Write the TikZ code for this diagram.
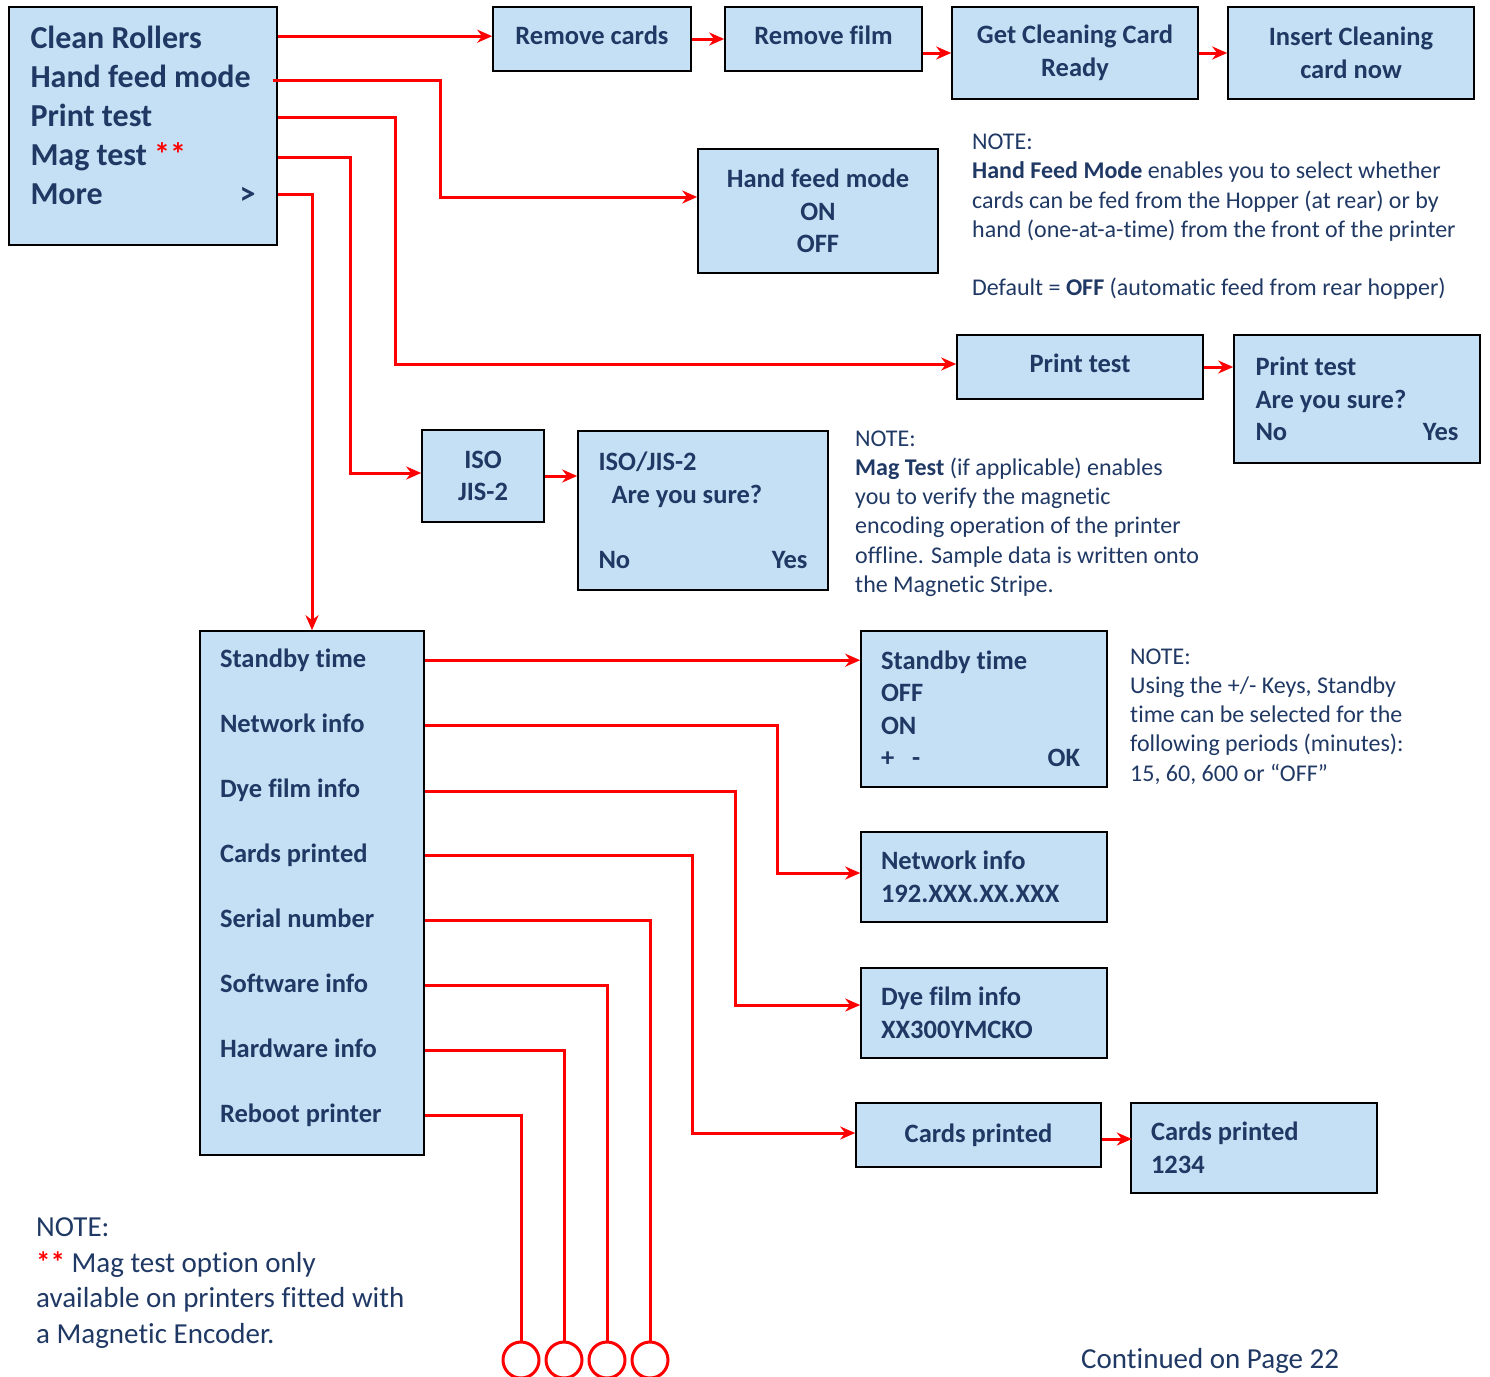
\documentclass[tikz,border=0pt]{standalone}
\usepackage{fontspec}
\setmainfont{Carlito}[Ligatures=NoCommon]
\usetikzlibrary{arrows.meta,calc,positioning}

\definecolor{boxblue}{RGB}{197,224,244}
\definecolor{navy}{RGB}{31,56,100}

\newcommand{\boxfont}{\bfseries\fontsize{26.5}{32.5}\selectfont}
\newcommand{\menufont}{\bfseries\fontsize{32}{39}\selectfont}
\newcommand{\listfont}{\bfseries\fontsize{26.5}{65}\selectfont}
\newcommand{\notefont}{\fontsize{24}{29.2}\selectfont}
\newcommand{\bignotefont}{\fontsize{29}{35.6}\selectfont}

\begin{document}
\begin{tikzpicture}[x=1pt, y=-1pt,
    box/.style = {draw, line width=1.6pt, fill=boxblue, text=navy, inner sep=0pt, font=\boxfont},
    wire/.style = {draw=red, line width=3pt, -{Stealth[length=15pt,width=13pt]}},
    link/.style = {draw=red, line width=3pt},
    term/.style = {circle, draw=red, line width=3pt, minimum size=36pt, inner sep=0pt},
    note/.style = {text=navy, anchor=north west, align=flush left, inner sep=0pt, font=\notefont}]
    \useasboundingbox (0,0) rectangle (1490,1376);

    % main menu
    \node[box, font=\menufont, minimum width=268pt, minimum height=238pt, text width=225pt, align=flush left] (menu) at (143,126)
        {Clean Rollers\\Hand feed mode\\Print test\\Mag test {\color{red}**}\\More\hfill >\\[-17pt]\mbox{}};

    % clean rollers
    \node[box, minimum width=198pt, minimum height=64pt, text depth=8pt] (rmcards) at (592,39) {Remove cards};
    \node[box, minimum width=197pt, minimum height=64pt, text depth=8pt] (rmfilm) at (823.5,39) {Remove film};
    \node[box, minimum width=246pt, minimum height=92pt, align=center] (getcard) at (1075,53) {Get Cleaning Card\\Ready};
    \node[box, minimum width=246pt, minimum height=92pt, align=center] (insert) at (1351,53) {Insert Cleaning\\card now};

    % hand feed mode
    \node[box, minimum width=240pt, minimum height=124pt, align=center] (handfeed) at (818,211) {Hand feed mode\\ON\\OFF};
    \node[note] (notehf) at (972,134)
        {NOTE:\\
        \textbf{Hand Feed Mode} enables you to select whether\\
        cards can be fed from the Hopper (at rear) or by\\
        hand (one-at-a-time) from the front of the printer\\[29.2pt]
        Default = \textbf{OFF} (automatic feed from rear hopper)};

    % print test
    \node[box, minimum width=246pt, minimum height=64pt, text depth=8pt] (printtest) at (1080,367) {Print test};
    \node[box, minimum width=246pt, minimum height=128pt, text width=203pt, align=flush left] (printsure) at (1357,399)
        {Print test\\Are you sure?\\No\hfill Yes};

    % mag test
    \node[box, minimum width=122pt, minimum height=92pt, align=center] (iso) at (483,476) {ISO\\JIS-2};
    \node[box, minimum width=250pt, minimum height=159pt, text width=209pt, align=flush left] (isosure) at (703,510.5)
        {ISO/JIS-2\\\hspace*{13pt}Are you sure?\\\mbox{}\\No\hfill Yes};
    \node[note] (notemag) at (855,430.5)
        {NOTE:\\
        \textbf{Mag Test} (if applicable) enables\\
        you to verify the magnetic\\
        encoding operation of the printer\\
        offline. Sample data is written onto\\
        the Magnetic Stripe.};

    % more
    \node[box, font=\listfont, minimum width=224pt, minimum height=524pt, text width=184pt, align=flush left] (more) at (312,893)
        {Standby time\\Network info\\Dye film info\\Cards printed\\Serial number\\Software info\\Hardware info\\Reboot printer\\[-50pt]\mbox{}};

    \node[box, minimum width=246pt, minimum height=156pt, text width=206pt, align=flush left] (standby) at (984,709)
        {Standby time\\OFF\\ON\\+\hspace{18pt}-\hfill OK\hspace*{7pt}};
    \node[note] (notesb) at (1130,648.5)
        {NOTE:\\
        Using the +/- Keys, Standby\\
        time can be selected for the\\
        following periods (minutes):\\
        15, 60, 600 or “OFF”};
    \node[box, minimum width=246pt, minimum height=90pt, text width=206pt, align=flush left] (network) at (984,877)
        {Network info\\192.XXX.XX.XXX};
    \node[box, minimum width=246pt, minimum height=90pt, text width=206pt, align=flush left] (dyefilm) at (984,1013)
        {Dye film info\\XX300YMCKO};
    \node[box, minimum width=245pt, minimum height=64pt] (cardsp) at (978.5,1135) {Cards printed};
    \node[box, minimum width=246pt, minimum height=90pt, text width=206pt, align=flush left] (cardsn) at (1254,1148)
        {Cards printed\\1234};

    % open ends
    \node[term] (t1) at (521,1360) {};
    \node[term] (t2) at (564,1360) {};
    \node[term] (t3) at (607,1360) {};
    \node[term] (t4) at (650,1360) {};

    \node[note, font=\bignotefont] (notebot) at (36,1217.5)
        {NOTE:\\
        {\color{red}\textbf{**}} Mag test option only\\
        available on printers fitted with\\
        a Magnetic Encoder.};
    \node[text=navy, font=\bignotefont, anchor=base west, inner sep=0pt] (cont) at (1081,1368) {Continued on Page 22};

    % menu exits
    \coordinate (mClean) at ($(menu.north east)+(0,30)$);
    \coordinate (mHand) at ($(menu.north east)+(-5,74)$);
    \coordinate (mPrint) at ($(menu.north east)+(0,111)$);
    \coordinate (mMag) at ($(menu.north east)+(0,151)$);
    \coordinate (mMore) at ($(menu.north east)+(0,188)$);

    \draw[wire] (mClean) -- (mClean -| rmcards.west);
    \draw[wire] (rmcards.east) -- (rmfilm.west);
    \draw[wire] (rmfilm.east |- getcard.west) -- (getcard.west);
    \draw[wire] (getcard.east) -- (insert.west);
    \draw[wire] (mHand) -- ++(168,0) |- ($(handfeed.west)+(0,-14)$);
    \draw[wire] (mPrint) -- ++(118,0) |- ($(printtest.west)+(0,-3)$);
    \draw[wire] (printtest.east) -- (printtest.east -| printsure.west);
    \draw[wire] (mMag) -- ++(73,0) |- ($(iso.west)+(0,-3)$);
    \draw[wire] (iso.east) -- (iso.east -| isosure.west);
    \draw[wire] (mMore) -| (more.north);

    % more exits
    \coordinate (oStandby) at ($(more.north east)+(0,30)$);
    \coordinate (oNetwork) at ($(more.north east)+(0,95)$);
    \coordinate (oDye) at ($(more.north east)+(0,161)$);
    \coordinate (oCards) at ($(more.north east)+(0,225)$);
    \coordinate (oSerial) at ($(more.north east)+(0,290)$);
    \coordinate (oSoftware) at ($(more.north east)+(0,355)$);
    \coordinate (oHardware) at ($(more.north east)+(0,420)$);
    \coordinate (oReboot) at ($(more.north east)+(0,485)$);

    \draw[wire] (oStandby) -- (oStandby -| standby.west);
    \draw[wire] (oNetwork) -- ++(353,0) |- ($(network.west)+(0,-4)$);
    \draw[wire] (oDye) -- ++(311,0) |- ($(dyefilm.west)+(0,-8)$);
    \draw[wire] (oCards) -- ++(268,0) |- ($(cardsp.west)+(0,-2)$);
    \draw[wire] (cardsp.east |- cardsn.west) ++(0,-9) -- ++(30,0);
    \draw[link] (oSerial) -| (t4.north);
    \draw[link] (oSoftware) -| (t3.north);
    \draw[link] (oHardware) -| (t2.north);
    \draw[link] (oReboot) -| (t1.north);
\end{tikzpicture}
\end{document}
